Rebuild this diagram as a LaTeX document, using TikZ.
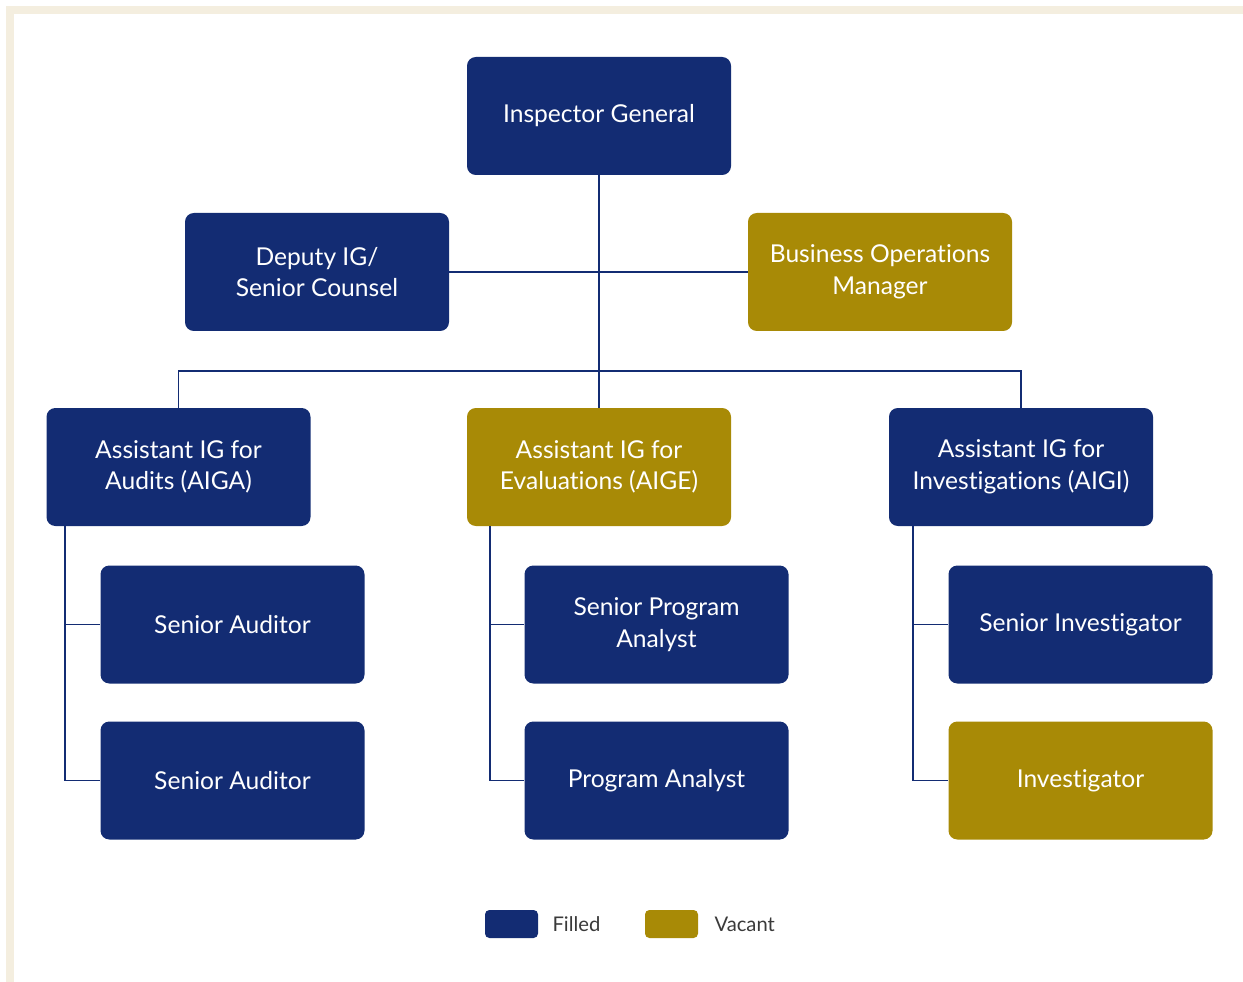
\documentclass[tikz,border=0pt]{standalone}
\usepackage{fontspec}
\setmainfont{Lato}[Ligatures=NoCommon]
\usetikzlibrary{positioning}

\definecolor{navy}{HTML}{132C73}
\definecolor{gold}{HTML}{A88A06}
\definecolor{beige}{HTML}{F4EEDF}
\definecolor{legendgray}{HTML}{3A3A3A}

\tikzset{
  post/.style={rectangle,rounded corners=5pt,minimum width=5.28cm,minimum height=2.36cm,
    text=white,align=center,font=\fontsize{14}{18}\selectfont},
  filled/.style={post,fill=navy},
  vacant/.style={post,fill=gold},
  swatch/.style={rectangle,rounded corners=2.5pt,minimum width=1.06cm,minimum height=0.56cm},
  link/.style={draw=navy,line width=1pt}
}

\begin{document}
\begin{tikzpicture}[node distance=3.12cm,on grid]
    \useasboundingbox (0,0) rectangle (24.86,-19.64);
    \fill[beige] (0.12,-0.12) rectangle (24.86,-0.28);
    \fill[beige] (0.12,-0.12) rectangle (0.28,-19.64);

    \node[filled] (ig) at (11.98,-2.32) {Inspector General};
    \node[filled] (deputy) [below left=3.12cm and 5.64cm of ig] {Deputy IG/\\Senior Counsel};
    \node[vacant] (busops) [below right=3.12cm and 5.62cm of ig] {Business Operations\\Manager};

    \node[vacant] (aige) [below=7.02cm of ig] {Assistant IG for\\Evaluations (AIGE)};
    \node[filled] (aiga) [left=8.41cm of aige] {Assistant IG for\\Audits (AIGA)};
    \node[filled] (aigi) [right=8.44cm of aige] {Assistant IG for\\Investigations (AIGI)};

    \node[filled] (sraud1) [below right=3.15cm and 1.08cm of aiga] {Senior Auditor};
    \node[filled] (sraud2) [below of=sraud1] {Senior Auditor};
    \node[filled] (srpa) [below right=3.15cm and 1.15cm of aige] {Senior Program\\Analyst};
    \node[filled] (pa) [below of=srpa] {Program Analyst};
    \node[filled] (srinv) [below right=3.15cm and 1.19cm of aigi] {Senior Investigator};
    \node[vacant] (inv) [below of=srinv] {Investigator};

    % reporting lines
    \path[link] (ig) -- (aige)
                (deputy) -- (busops)
                (aiga.north) -- ++(0,0.74) -| (aigi.north);
    \path[link] ([xshift=0.38cm]aiga.south west) |- (sraud1.west)
                ([xshift=0.38cm]aiga.south west) |- (sraud2.west);
    \path[link] ([xshift=0.46cm]aige.south west) |- (srpa.west)
                ([xshift=0.46cm]aige.south west) |- (pa.west);
    \path[link] ([xshift=0.48cm]aigi.south west) |- (srinv.west)
                ([xshift=0.48cm]aigi.south west) |- (inv.west);

    % legend
    \node[swatch,fill=navy] (keyfilled) at (10.23,-18.48) {};
    \node[anchor=west,text=legendgray,font=\fontsize{11.5}{14}\selectfont] (keyfilledtxt) [right=0.16cm of keyfilled.east] {Filled};
    \node[swatch,fill=gold] (keyvacant) at (13.43,-18.48) {};
    \node[anchor=west,text=legendgray,font=\fontsize{11.5}{14}\selectfont] (keyvacanttxt) [right=0.2cm of keyvacant.east] {Vacant};
  \end{tikzpicture}
\end{document}
